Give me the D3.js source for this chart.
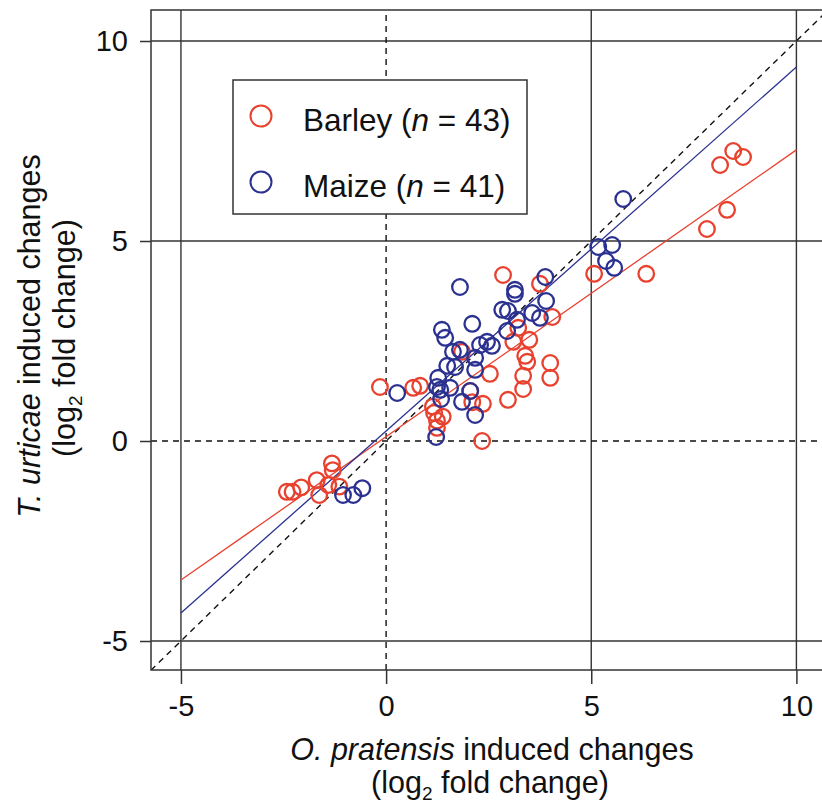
<!DOCTYPE html>
<html>
<head>
<meta charset="utf-8">
<script src="https://cdn.jsdelivr.net/npm/d3@7"></script>
<style>
  body { margin: 0; background: #fff; }
  text { font-family: "Liberation Sans", Arial, Helvetica, sans-serif; fill: #111; }
</style>
</head>
<body>
<script>
// values (log2 fold change)
var barleyX = [-2.42, -2.28, -2.07, -1.69, -1.63, -1.32, -1.30, -1.41, -1.14,
               -0.15, 0.66, 0.83, 1.14, 1.24, 1.38, 1.17, 1.24, 1.85, 2.05, 2.10,
               2.53, 2.36, 2.34, 2.97, 2.85, 3.22, 3.10, 3.49, 3.39, 3.44, 3.34,
               3.34, 4.00, 4.00, 4.05, 3.75, 5.07, 6.34, 7.82, 8.31, 8.14, 8.46, 8.70];
var barleyY = [-1.27, -1.27, -1.16, -0.98, -1.35, -0.56, -0.73, -1.10, -1.14,
               1.35, 1.33, 1.38, 0.86, 0.51, 0.61, 0.70, 0.33, 2.23, 1.25, 0.97,
               1.68, 0.93, 0.00, 1.03, 4.15, 2.83, 2.48, 2.53, 2.13, 1.98, 1.63,
               1.30, 1.95, 1.58, 3.10, 3.93, 4.18, 4.18, 5.30, 5.78, 6.90, 7.25, 7.10];
var maizeX = [-1.05, -0.80, -0.58, 0.27, 1.22, 1.36, 1.44, 2.10, 1.80, 1.63, 1.80,
              2.29, 2.46, 2.58, 1.49, 1.68, 2.17, 2.17, 1.27, 1.24, 1.56, 1.32,
              2.05, 1.85, 2.17, 2.83, 2.97, 3.14, 3.14, 2.95, 3.19, 3.56, 3.75,
              3.90, 3.88, 5.17, 5.51, 5.36, 5.56, 5.78, 1.34];
var maizeY = [-1.35, -1.35, -1.18, 1.20, 0.10, 2.78, 2.58, 2.93, 3.85, 2.23, 2.28,
              2.40, 2.48, 2.38, 1.88, 1.85, 2.08, 1.78, 1.58, 1.35, 1.33, 1.28,
              1.25, 0.98, 0.65, 3.28, 3.25, 3.78, 3.68, 2.75, 3.03, 3.20, 3.08,
              3.50, 4.10, 4.85, 4.90, 4.50, 4.33, 6.05, 1.05];
// fitted lines: [intercept, slope], drawn over x = -5 .. 10
var barleyFit = [0.108, 0.717];
var maizeFit = [0.25, 0.91];
var fitRange = [-5, 10];

var xTicks = [-5, 0, 5, 10];
var yTicks = [-5, 0, 5, 10];
var solidGrid = [-5, 5, 10];

var red = "#e8412e", blue = "#2b3190";

var svg = d3.select("body").append("svg")
    .attr("width", 822).attr("height", 811);

var x = d3.scaleLinear().domain([-5.73, 10.77]).range([151, 828]);
var y = d3.scaleLinear().domain([-5.725, 10.775]).range([670, 10]);

var plot = svg.append("g");
plot.append("clipPath").attr("id", "clip")
    .append("rect").attr("x", 151).attr("y", 10).attr("width", 677).attr("height", 660);

var inner = plot.append("g").attr("clip-path", "url(#clip)");

// solid reference lines
inner.selectAll(".gx").data(solidGrid).enter().append("line")
    .attr("x1", d => x(d)).attr("x2", d => x(d))
    .attr("y1", y.range()[0]).attr("y2", y.range()[1])
    .attr("stroke", "#333").attr("stroke-width", 1.4);
inner.selectAll(".gy").data(solidGrid).enter().append("line")
    .attr("y1", d => y(d)).attr("y2", d => y(d))
    .attr("x1", x.range()[0]).attr("x2", x.range()[1])
    .attr("stroke", "#333").attr("stroke-width", 1.4);

// dashed zero lines and y = x
inner.append("line")
    .attr("x1", x(0)).attr("x2", x(0)).attr("y1", y.range()[0]).attr("y2", y.range()[1])
    .attr("stroke", "#111").attr("stroke-width", 1.4).attr("stroke-dasharray", "6,5");
inner.append("line")
    .attr("y1", y(0)).attr("y2", y(0)).attr("x1", x.range()[0]).attr("x2", x.range()[1])
    .attr("stroke", "#111").attr("stroke-width", 1.4).attr("stroke-dasharray", "6,5");
inner.append("line")
    .attr("x1", x(-5.73)).attr("y1", y(-5.73)).attr("x2", x(10.77)).attr("y2", y(10.77))
    .attr("stroke", "#111").attr("stroke-width", 1.4).attr("stroke-dasharray", "6,5");

// fit lines
function fitLine(fit, col) {
  inner.append("line")
    .attr("x1", x(fitRange[0])).attr("y1", y(fit[0] + fit[1] * fitRange[0]))
    .attr("x2", x(fitRange[1])).attr("y2", y(fit[0] + fit[1] * fitRange[1]))
    .attr("stroke", col).attr("stroke-width", 1.3);
}
fitLine(barleyFit, red);
fitLine(maizeFit, blue);

// points
function points(xs, ys, col) {
  inner.append("g").selectAll("circle")
    .data(xs.map((d, i) => [d, ys[i]])).enter()
    .append("circle")
    .attr("cx", d => x(d[0])).attr("cy", d => y(d[1]))
    .attr("r", 7.8)
    .attr("fill", "none").attr("stroke", col).attr("stroke-width", 2.3);
}
points(barleyX, barleyY, red);
points(maizeX, maizeY, blue);

// frame
plot.append("rect").attr("x", 151).attr("y", 10).attr("width", 677).attr("height", 660)
    .attr("fill", "none").attr("stroke", "#333").attr("stroke-width", 1.5);

// axes (plain hyphen for negatives, like the original)
var fmt = d => String(d);
var xAxis = d3.axisBottom(x).tickValues(xTicks).tickFormat(fmt).tickSize(14).tickPadding(11);
var gx = svg.append("g").attr("transform", "translate(0,670)").call(xAxis);
gx.select(".domain").remove();
gx.selectAll("line").attr("stroke", "#333").attr("stroke-width", 1.5);
gx.selectAll("text").attr("font-size", 29).attr("fill", "#111")
    .attr("font-family", "'Liberation Sans', Arial, sans-serif");

var yAxis = d3.axisLeft(y).tickValues(yTicks).tickFormat(fmt).tickSize(11).tickPadding(12);
var gy = svg.append("g").attr("transform", "translate(151,0)").call(yAxis);
gy.select(".domain").remove();
gy.selectAll("line").attr("stroke", "#333").attr("stroke-width", 1.5);
gy.selectAll("text").attr("font-size", 29).attr("fill", "#111")
    .attr("font-family", "'Liberation Sans', Arial, sans-serif");

// axis titles
var xt = svg.append("text").attr("x", 492).attr("y", 760)
    .attr("text-anchor", "middle").attr("font-size", 30.5);
xt.append("tspan").attr("font-style", "italic").text("O. pratensis");
xt.append("tspan").text(" induced changes");

function logLabel(sel) {
  sel.append("tspan").text("(log");
  sel.append("tspan").attr("font-size", 19).attr("dy", 7).text("2");
  sel.append("tspan").attr("dy", -7).text(" fold change)");
}
var xt2 = svg.append("text").attr("x", 490).attr("y", 793)
    .attr("text-anchor", "middle").attr("font-size", 30.5);
logLabel(xt2);

var yt = svg.append("text").attr("transform", "translate(40,336) rotate(-90)")
    .attr("text-anchor", "middle").attr("font-size", 30.5);
yt.append("tspan").attr("font-style", "italic").text("T. urticae");
yt.append("tspan").text(" induced changes");
var yt2 = svg.append("text").attr("transform", "translate(75,338) rotate(-90)")
    .attr("text-anchor", "middle").attr("font-size", 30.5);
logLabel(yt2);

// legend
var leg = svg.append("g");
leg.append("rect").attr("x", 233).attr("y", 80).attr("width", 294).attr("height", 134)
    .attr("fill", "#fff").attr("stroke", "#333").attr("stroke-width", 1.5);
var legItems = [["Barley", "43", red], ["Maize", "41", blue]];
legItems.forEach(function(it, i) {
  var cy = 116 + i * 66;
  leg.append("circle").attr("cx", 261).attr("cy", cy).attr("r", 10.5)
    .attr("fill", "none").attr("stroke", it[2]).attr("stroke-width", 2);
  var t = leg.append("text").attr("x", 303).attr("y", cy + 15).attr("font-size", 31.5);
  t.append("tspan").text(it[0] + " (");
  t.append("tspan").attr("font-style", "italic").text("n");
  t.append("tspan").text(" = " + it[1] + ")");
});
</script>
</body>
</html>
